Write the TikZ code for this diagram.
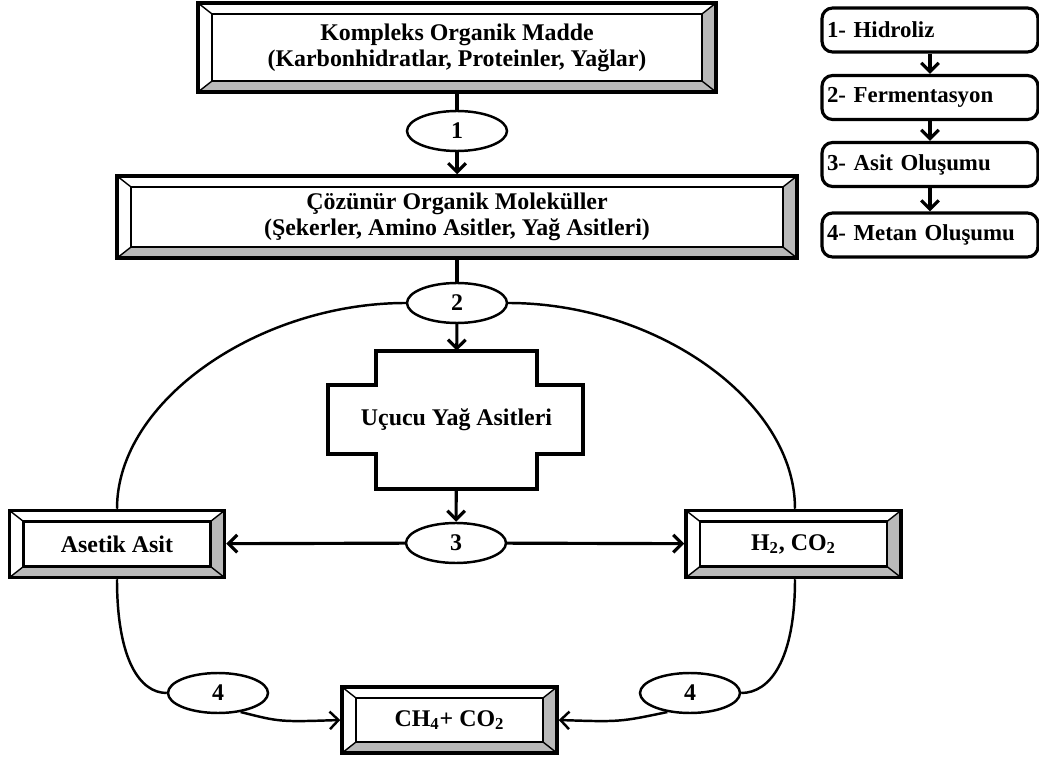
\documentclass[tikz,border=0pt]{standalone}
\usepackage{fontspec}
\setmainfont{Liberation Serif}
\usetikzlibrary{arrows.meta,shapes.geometric,calc}
\newcommand{\boxfont}{\fontsize{13.6}{14.8}\selectfont\bfseries}
\newcommand{\legfont}{\fontsize{13}{14}\selectfont\bfseries}

\begin{document}
\begin{tikzpicture}[x=0.02cm,y=-0.02cm,
  >={Straight Barb[length=5pt,width=10pt]},
  bevelbox/.style={draw, line width=2pt, fill=white, align=center, font=\boxfont,
    path picture={
      \path (path picture bounding box.south west) coordinate (bl)
            (path picture bounding box.north east) coordinate (tr);
      \path ([shift={(0.28cm,0.22cm)}]bl) coordinate (bli)
            ([shift={(-0.28cm,-0.22cm)}]tr) coordinate (tri);
      \fill[gray!55] (tr) -- (tr|-bl) -- (tri|-bli) -- (tri) -- cycle;
      \fill[gray!55] (bl) -- (tr|-bl) -- (tri|-bli) -- (bli) -- cycle;
      \draw[line width=1.2pt] (bli) rectangle (tri);
      \draw[line width=0.8pt] (bl) -- (bli) (tr) -- (tri)
        (bl|-tr) -- (bli|-tri) (tr|-bl) -- (tri|-bli);
    }},
  stage/.style={draw, ellipse, line width=1.4pt, minimum width=2cm, minimum height=0.8cm, font=\boxfont},
  legbox/.style={draw, rounded corners=6pt, line width=1.8pt, minimum height=0.88cm,
    text width=4.12cm, inner xsep=0.1cm, align=left, font=\legfont},
  flow/.style={line width=1.8pt},
  loop/.style={line width=1.4pt}]
\useasboundingbox (0,0) rectangle (1039,760);

% main chain
\node[bevelbox, minimum width=10.36cm, minimum height=1.78cm] (kom) at (457,47.5) {Kompleks Organik Madde\\(Karbonhidratlar, Proteinler, Yağlar)};
\node[stage] (s1) at (457,131) {1};
\node[bevelbox, minimum width=13.6cm, minimum height=1.64cm] (coz) at (457,217) {Çözünür Organik Moleküller\\(Şekerler, Amino Asitler, Yağ Asitleri)};
\node[stage] (s2) at (457,303) {2};
\draw[line width=1.8pt] (376,351) -- (537,351) -- (537,385) -- (583,385) -- (583,454) -- (537,454)
  -- (537,489) -- (376,489) -- (376,454) -- (328,454) -- (328,385) -- (376,385) -- cycle;
\node[minimum width=5.1cm, minimum height=2.76cm, font=\boxfont] (ucu) at (456.5,420) {Uçucu Yağ Asitleri};
\node[stage] (s3) at (456,543) {3};

% products
\node[bevelbox, minimum width=4.3cm, minimum height=1.34cm] (ase) at (117,544) {Asetik Asit};
\node[bevelbox, minimum width=4.3cm, minimum height=1.34cm] (hid) at (793.5,544) {H\textsubscript{2}, CO\textsubscript{2}};
\node[stage] (s4a) at (218,693) {4};
\node[stage] (s4b) at (690,693) {4};
\node[bevelbox, minimum width=4.3cm, minimum height=1.32cm] (met) at (449.5,720) {CH\textsubscript{4}+ CO\textsubscript{2}};

\draw[flow] (kom) -- (s1);
\draw[flow,->] (s1) -- (coz);
\draw[flow] (coz) -- (s2);
\draw[flow,->] (s2) -- (ucu);
\draw[flow,->] (ucu) -- (s3);
\draw[flow,->] (s3) -- (ase);
\draw[flow,->] (s3) -- (hid);

\draw[loop] (s2.west) .. controls (260,303) and (117,400) .. (ase.north);
\draw[loop] (s2.east) .. controls (655,303) and (795,400) .. (hid.north -| 795,0);
\draw[loop] (ase.south) .. controls (117,660) and (140,693) .. (s4a.west);
\draw[loop] (hid.south -| 795,0) .. controls (795,660) and (770,693) .. (s4b.east);
\draw[loop,->] (s4a.-40) .. controls (280,722) .. (met.west);
\draw[loop,->] (s4b.-140) .. controls (620,722) .. (met.east);

% legend
\node[legbox] (l1) at (930,30) {1- Hidroliz};
\node[legbox] (l2) at (930,97.5) {2- Fermentasyon};
\node[legbox] (l3) at (930,164.5) {3- Asit Oluşumu};
\node[legbox] (l4) at (930,235) {4- Metan Oluşumu};
\draw[flow,->] (l1) -- (l2);
\draw[flow,->] (l2) -- (l3);
\draw[flow,->] (l3) -- (l4);
\end{tikzpicture}
\end{document}
